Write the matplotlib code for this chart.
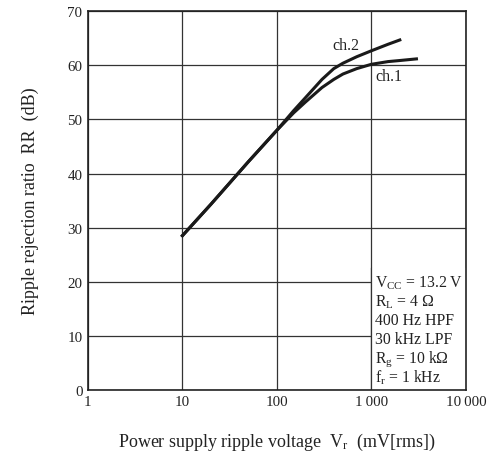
import matplotlib
matplotlib.use("Agg")
import matplotlib.pyplot as plt
import matplotlib.patches as patches

plt.rcParams['font.family'] = ['Liberation Serif', 'DejaVu Serif']
plt.rcParams['mathtext.fontset'] = 'custom'
plt.rcParams['mathtext.rm'] = 'Liberation Serif'
plt.rcParams['mathtext.it'] = 'Liberation Serif:italic'

# ripple voltage (mV rms) and ripple rejection (dB)
vr_ch1 = [10, 20, 50, 100, 150, 200, 300, 400, 500, 700, 1000, 1500, 2000, 3000]
rr_ch1 = [28.5, 34.3, 42.2, 48.0, 51.2, 53.2, 55.9, 57.4, 58.4, 59.4, 60.2, 60.7, 60.9, 61.2]
vr_ch2 = [10, 20, 50, 100, 150, 200, 300, 400, 500, 700, 1000, 1500, 2000]
rr_ch2 = [28.5, 34.3, 42.2, 48.0, 51.6, 54.0, 57.4, 59.4, 60.4, 61.6, 62.7, 63.9, 64.7]

xticks = [1, 10, 100, 1000, 10000]
xticklabels = ['1', '10', '100', '1\u2009000', '10\u2009000']
yticks = [0, 10, 20, 30, 40, 50, 60, 70]

conditions = ['V$_{\\rm CC}$ = 13.2 V',
              'R$_{\\rm L}$ = 4 \u03a9',
              '400 Hz HPF',
              '30 kHz LPF',
              'R$_{\\rm g}$ = 10 k\u03a9',
              'f$_{\\rm r}$ = 1 kHz']

fig = plt.figure(figsize=(4.94, 4.56), dpi=100)
ax = fig.add_axes([0.178, 0.143, 0.765, 0.83])

ax.set_xscale('log')
ax.set_xlim(1, 10000)
ax.set_ylim(0, 70)
ax.set_xticks(xticks)
ax.set_xticklabels(xticklabels)
ax.set_yticks(yticks)
ax.minorticks_off()
ax.tick_params(length=0, labelsize=10.8, pad=4, colors='#222222')
ax.grid(True, color='#333333', linewidth=0.9)
ax.set_axisbelow(True)
for s in ax.spines.values():
    s.set_linewidth(1.2)
    s.set_color('#222222')

# white area for the conditions text (hides grid right of 1000)
ax.add_patch(patches.Rectangle((1000, 0), 9000, 22.5, facecolor='white',
                               edgecolor='none', zorder=1.5))
ax.plot([1000, 1000], [0, 22.5], color='#333333', linewidth=0.9, zorder=1.6)

ax.plot(vr_ch1, rr_ch1, color='#1a1a1a', linewidth=2.2, zorder=3)
ax.plot(vr_ch2, rr_ch2, color='#1a1a1a', linewidth=2.2, zorder=3)
ax.text(750, 63.8, 'ch.2', fontsize=11.5, ha='right', va='center', color='#222222')
ax.text(1100, 58.0, 'ch.1', fontsize=11.5, ha='left', va='center', color='#222222')

for i, line in enumerate(conditions):
    ax.text(1100, 19.9 - i * 3.5, line, fontsize=11.3, ha='left', va='center',
            color='#222222', zorder=4)

ax.set_xlabel('Power supply ripple voltage  V$_{\\rm r}$  (mV[rms])',
              fontsize=13, labelpad=16, color='#222222')
ax.set_ylabel('Ripple rejection ratio  RR  (dB)', fontsize=13,
              labelpad=20, color='#222222')

fig.savefig('out.png', dpi=100)
